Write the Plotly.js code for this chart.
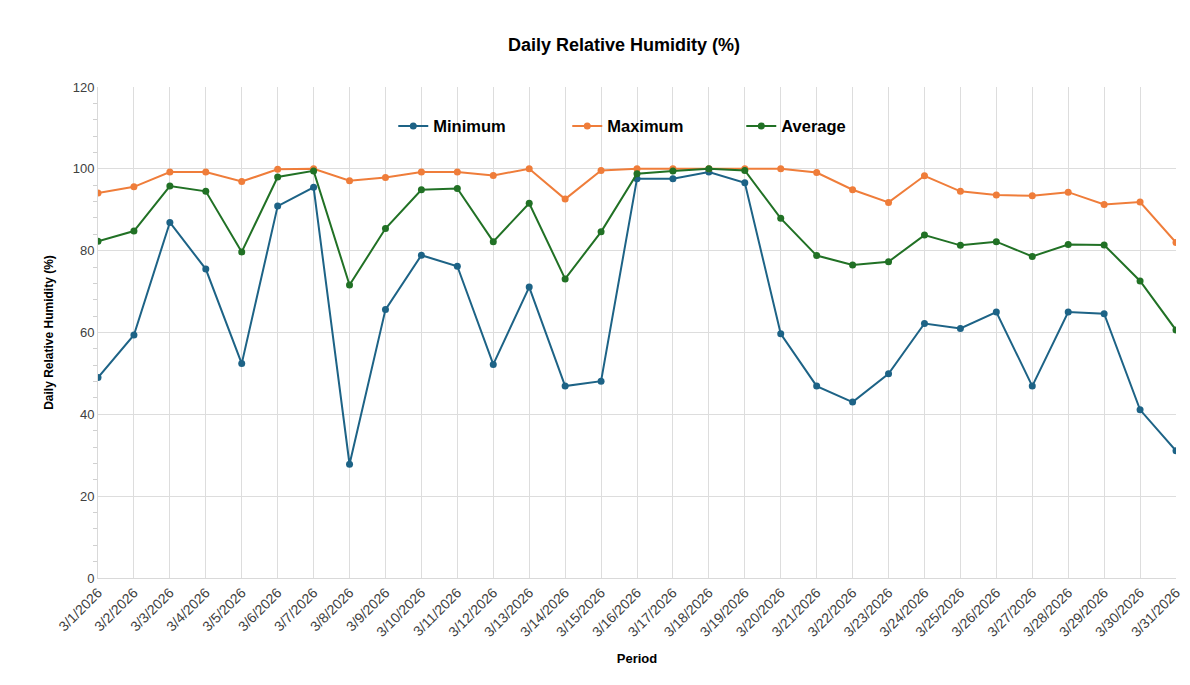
<!DOCTYPE html>
<html>
<head>
<meta charset="utf-8">
<script src="https://cdn.plot.ly/plotly-3.0.1.min.js"></script>
<style>html,body{margin:0;padding:0;background:#fff;}#chart{width:1190px;height:685px;}</style>
</head>
<body>
<div id="chart"></div>
<script>
const dates = ["3/1/2026","3/2/2026","3/3/2026","3/4/2026","3/5/2026","3/6/2026","3/7/2026","3/8/2026","3/9/2026","3/10/2026","3/11/2026","3/12/2026","3/13/2026","3/14/2026","3/15/2026","3/16/2026","3/17/2026","3/18/2026","3/19/2026","3/20/2026","3/21/2026","3/22/2026","3/23/2026","3/24/2026","3/25/2026","3/26/2026","3/27/2026","3/28/2026","3/29/2026","3/30/2026","3/31/2026"];
const minimum = [49.0,59.4,86.9,75.5,52.4,90.9,95.5,27.8,65.6,78.9,76.2,52.2,71.1,46.9,48.1,97.6,97.6,99.2,96.6,59.7,46.9,43.0,49.9,62.2,61.0,65.0,46.9,65.0,64.6,41.1,31.1];
const maximum = [94.1,95.6,99.2,99.2,96.9,99.9,100,97.1,97.9,99.2,99.2,98.4,100,92.6,99.6,100,100,100,100,100,99.1,94.9,91.8,98.3,94.5,93.6,93.4,94.3,91.3,91.9,82.0];
const average = [82.3,84.8,95.8,94.5,79.7,98.0,99.5,71.6,85.4,94.9,95.2,82.2,91.6,73.1,84.6,98.8,99.5,100,99.6,87.9,78.8,76.5,77.3,83.8,81.3,82.2,78.6,81.5,81.4,72.6,60.6];

function tr(name, y, color) {
  return {x: dates, y: y, name: name, type: 'scatter', mode: 'lines+markers',
    line: {color: color, width: 2}, marker: {color: color, size: 7}};
}
const data = [tr('Minimum', minimum, '#1d6386'), tr('Maximum', maximum, '#ef7d3a'), tr('Average', average, '#217125')];

const layout = {
  width: 1190, height: 685,
  margin: {l: 98, r: 14, t: 87, b: 107},
  paper_bgcolor: '#fff', plot_bgcolor: '#fff',
  font: {family: 'Liberation Sans, Arial, sans-serif', color: '#404040', size: 12},
  title: {text: '<b>Daily Relative Humidity (%)</b>', font: {size: 18, color: '#000'},
    x: 0.488, xref: 'paper', xanchor: 'center', y: 0.935, yanchor: 'middle'},
  showlegend: true,
  legend: {orientation: 'h', x: 0.2739, xanchor: 'left', y: 0.92, yanchor: 'middle',
    font: {size: 16.5, color: '#000', family: 'Liberation Sans, Arial, sans-serif', weight: 'bold'},
    bgcolor: 'rgba(0,0,0,0)', entrywidth: 129, entrywidthmode: 'pixels', itemwidth: 30},
  xaxis: {type: 'category', range: [0, 30], showgrid: true, gridcolor: '#dddddd', gridwidth: 1,
    tickangle: -45, tickfont: {size: 14, color: '#404040'}, ticks: '', zeroline: false,
    showline: true, linecolor: '#d9d9d9', linewidth: 1,
    title: {text: '<b>Period</b>', font: {size: 13, color: '#000'}, standoff: 14}},
  yaxis: {range: [0, 120], dtick: 20, showgrid: true, gridcolor: '#dddddd', gridwidth: 1,
    tickfont: {size: 13, color: '#404040'}, zeroline: false,
    showline: true, linecolor: '#d9d9d9', linewidth: 1, ticks: '',
    minor: {dtick: 4, ticks: 'outside', ticklen: 4, tickcolor: '#d0d0d0', showgrid: false},
    title: {text: '<b>Daily Relative Humidity (%)</b>', font: {size: 12, color: '#000'}, standoff: 16}}
};
Plotly.newPlot('chart', data, layout, {displayModeBar: false, responsive: false});
</script>
</body>
</html>
